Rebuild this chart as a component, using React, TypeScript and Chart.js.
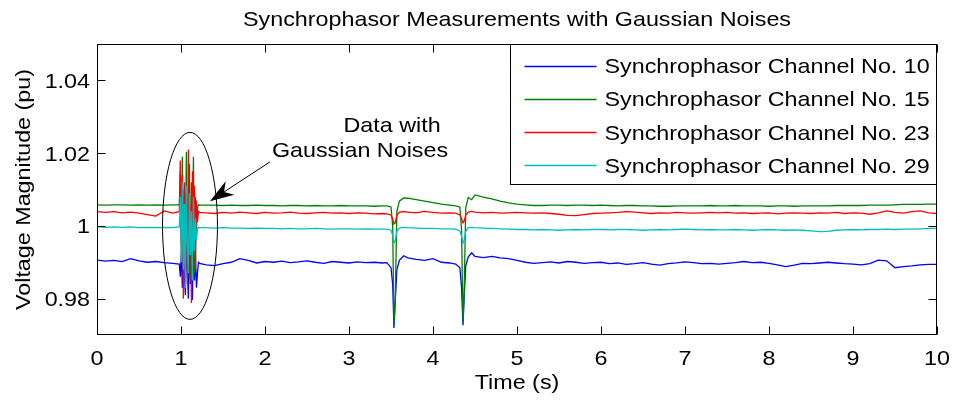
import React, { useEffect, useRef } from 'react';
import { Chart, registerables } from 'chart.js';

Chart.register(...registerables);

// ---------- data ----------
const times = [
  0, 0.1, 0.2, 0.3, 0.4, 0.5, 0.6, 0.7, 0.8, 0.9,
  0.98, 0.992, 1.004, 1.016, 1.028, 1.04, 1.052, 1.064, 1.076, 1.088, 1.1, 1.112, 1.124, 1.136, 1.148, 1.16, 1.172, 1.184, 1.196, 1.208, 1.22,
  1.3, 1.4, 1.5, 1.6, 1.7, 1.8, 1.9, 2.0, 2.1, 2.2, 2.3, 2.4, 2.5, 2.6, 2.7, 2.8, 2.9, 3.0, 3.1, 3.2, 3.3, 3.4,
  3.45, 3.5, 3.52, 3.535, 3.55, 3.57, 3.6, 3.65,
  3.7, 3.8, 3.9, 4.0, 4.1, 4.2,
  4.27, 4.32, 4.34, 4.357, 4.37, 4.39, 4.42, 4.46,
  4.5, 4.6, 4.7, 4.8, 4.9, 5.0, 5.1, 5.2, 5.3, 5.4,
  5.5, 5.6, 5.7, 5.8, 5.9, 6.0, 6.1, 6.2, 6.3, 6.4,
  6.5, 6.6, 6.7, 6.8, 6.9, 7.0, 7.1, 7.2, 7.3, 7.4,
  7.5, 7.6, 7.7, 7.8, 7.9, 8.0, 8.1, 8.2, 8.3, 8.4,
  8.5, 8.6, 8.7, 8.8, 8.9, 9.0, 9.1, 9.2, 9.3, 9.4,
  9.5, 9.6, 9.7, 9.8, 9.9, 10.0,
];

const channel10 = [
  0.9906, 0.9903, 0.9905, 0.9902, 0.9910, 0.9904, 0.9900, 0.9902, 0.9899, 0.9897,
  0.9895, 0.9860, 0.9930, 0.9830, 0.9960, 0.9870, 0.9810, 0.9950, 0.9880, 0.9800, 0.9985, 0.9840, 0.9930, 0.9796, 0.9960, 0.9850, 0.9920, 0.9830, 0.9870, 0.9900, 0.9897,
  0.9893, 0.9891, 0.9896, 0.9900, 0.9910, 0.9905, 0.9898, 0.9902, 0.9900, 0.9903, 0.9899, 0.9901, 0.9904, 0.9900, 0.9897, 0.9902, 0.9900, 0.9898, 0.9901, 0.9899, 0.9900, 0.9898,
  0.9899, 0.9885, 0.9840, 0.9719, 0.9790, 0.9880, 0.9905, 0.9918,
  0.9912, 0.9908, 0.9905, 0.9910, 0.9900, 0.9898,
  0.9895, 0.9885, 0.9830, 0.9727, 0.9800, 0.9890, 0.9915, 0.9926,
  0.9916, 0.9913, 0.9916, 0.9912, 0.9910, 0.9905, 0.9900, 0.9897, 0.9899, 0.9901,
  0.9898, 0.9902, 0.9900, 0.9897, 0.9899, 0.9900, 0.9896, 0.9898, 0.9894, 0.9896,
  0.9899, 0.9895, 0.9892, 0.9896, 0.9898, 0.9901, 0.9899, 0.9896, 0.9897, 0.9895,
  0.9897, 0.9899, 0.9902, 0.9899, 0.9900, 0.9897, 0.9893, 0.9888, 0.9892, 0.9897,
  0.9896, 0.9898, 0.9900, 0.9898, 0.9896, 0.9895, 0.9893, 0.9896, 0.9906, 0.9904,
  0.9885, 0.9888, 0.9890, 0.9893, 0.9894, 0.9894,
];

const channel15 = [
  1.0058, 1.0057, 1.0058, 1.0058, 1.0057, 1.0058, 1.0057, 1.0058, 1.0057, 1.0058,
  1.0058, 1.0150, 0.9950, 1.0190, 0.9880, 1.0100, 0.9960, 1.0204, 0.9900, 1.0060, 1.0170, 0.9850, 1.0120, 0.9940, 1.0190, 0.9870, 1.0080, 0.9990, 1.0050, 1.0058, 1.0057,
  1.0057, 1.0057, 1.0056, 1.0057, 1.0056, 1.0056, 1.0057, 1.0056, 1.0056, 1.0055, 1.0056, 1.0056, 1.0055, 1.0056, 1.0055, 1.0055, 1.0056, 1.0055, 1.0055, 1.0055, 1.0054, 1.0055,
  1.0055, 1.0052, 1.0000, 0.9733, 0.9790, 1.0040, 1.0068, 1.0077,
  1.0076, 1.0072, 1.0068, 1.0064, 1.0060, 1.0057,
  1.0055, 1.0052, 0.9990, 0.9736, 0.9810, 1.0050, 1.0078, 1.0072,
  1.0085, 1.0079, 1.0074, 1.0068, 1.0063, 1.0060, 1.0058, 1.0056, 1.0056, 1.0057,
  1.0057, 1.0056, 1.0057, 1.0057, 1.0056, 1.0057, 1.0056, 1.0055, 1.0056, 1.0056,
  1.0055, 1.0055, 1.0054, 1.0054, 1.0055, 1.0055, 1.0055, 1.0055, 1.0056, 1.0055,
  1.0055, 1.0056, 1.0055, 1.0055, 1.0055, 1.0054, 1.0055, 1.0055, 1.0054, 1.0055,
  1.0055, 1.0055, 1.0055, 1.0056, 1.0056, 1.0056, 1.0056, 1.0057, 1.0057, 1.0057,
  1.0058, 1.0059, 1.0059, 1.0059, 1.0060, 1.0060,
];

const channel23 = [
  1.0039, 1.0037, 1.0039, 1.0036, 1.0038, 1.0035, 1.0031, 1.0027, 1.0041, 1.0035,
  1.0039, 1.0180, 0.9930, 1.0140, 0.9800, 1.0120, 1.0000, 1.0090, 0.9840, 1.0210, 0.9950, 1.0060, 0.9788, 1.0150, 0.9960, 1.0110, 0.9880, 1.0070, 1.0010, 1.0040, 1.0037,
  1.0036, 1.0034, 1.0037, 1.0035, 1.0038, 1.0036, 1.0034, 1.0037, 1.0035, 1.0036, 1.0038, 1.0035, 1.0034, 1.0036, 1.0037, 1.0035, 1.0036, 1.0034, 1.0036, 1.0035, 1.0033, 1.0034,
  1.0033, 1.0030, 1.0020, 1.0005, 1.0008, 1.0030, 1.0038, 1.0039,
  1.0038, 1.0036, 1.0040, 1.0037, 1.0035, 1.0036,
  1.0035, 1.0030, 1.0020, 1.0008, 1.0012, 1.0030, 1.0038, 1.0040,
  1.0038, 1.0036, 1.0037, 1.0035, 1.0036, 1.0037, 1.0036, 1.0035, 1.0036, 1.0034,
  1.0032, 1.0029, 1.0028, 1.0031, 1.0034, 1.0035, 1.0036, 1.0037, 1.0039, 1.0038,
  1.0036, 1.0034, 1.0036, 1.0035, 1.0037, 1.0036, 1.0035, 1.0036, 1.0037, 1.0036,
  1.0037, 1.0035, 1.0036, 1.0034, 1.0035, 1.0036, 1.0033, 1.0035, 1.0036, 1.0035,
  1.0034, 1.0036, 1.0035, 1.0037, 1.0034, 1.0036, 1.0035, 1.0032, 1.0036, 1.0041,
  1.0037, 1.0035, 1.0039, 1.0041, 1.0036, 1.0034,
];

const channel29 = [
  0.9998, 0.9996, 0.9997, 0.9996, 0.9997, 0.9995, 0.9996, 0.9995, 0.9996, 0.9995,
  0.9997, 1.0080, 0.9900, 1.0120, 0.9880, 1.0060, 0.9830, 1.0110, 0.9950, 0.9870, 1.0090, 0.9920, 1.0040, 0.9850, 1.0080, 0.9930, 1.0020, 0.9960, 0.9990, 0.9996, 0.9995,
  0.9995, 0.9994, 0.9995, 0.9994, 0.9994, 0.9993, 0.9994, 0.9993, 0.9993, 0.9992, 0.9993, 0.9992, 0.9992, 0.9993, 0.9992, 0.9991, 0.9992, 0.9992, 0.9991, 0.9992, 0.9991, 0.9991,
  0.9991, 0.9988, 0.9975, 0.9953, 0.9958, 0.9985, 0.9994, 0.9996,
  0.9995, 0.9994, 0.9993, 0.9993, 0.9992, 0.9992,
  0.9991, 0.9986, 0.9972, 0.9953, 0.9960, 0.9985, 0.9995, 0.9996,
  0.9995, 0.9994, 0.9993, 0.9992, 0.9991, 0.9990, 0.9990, 0.9989, 0.9990, 0.9989,
  0.9988, 0.9989, 0.9990, 0.9989, 0.9990, 0.9990, 0.9989, 0.9990, 0.9990, 0.9989,
  0.9988, 0.9989, 0.9990, 0.9989, 0.9990, 0.9991, 0.9990, 0.9989, 0.9990, 0.9989,
  0.9989, 0.9990, 0.9989, 0.9988, 0.9989, 0.9990, 0.9989, 0.9988, 0.9989, 0.9988,
  0.9986, 0.9984, 0.9985, 0.9988, 0.9989, 0.9990, 0.9989, 0.9990, 0.9990, 0.9991,
  0.9990, 0.9991, 0.9991, 0.9992, 0.9993, 0.9993,
];

const seriesNames = [
  'Synchrophasor Channel No. 10',
  'Synchrophasor Channel No. 15',
  'Synchrophasor Channel No. 23',
  'Synchrophasor Channel No. 29',
];
const seriesColors = ['#0000ff', '#008000', '#ff0000', '#00bfbf'];

const xTicks = [0, 1, 2, 3, 4, 5, 6, 7, 8, 9, 10];
const xTickLabels = ['0', '1', '2', '3', '4', '5', '6', '7', '8', '9', '10'];
const yTicks = [0.98, 1, 1.02, 1.04];
const yTickLabels = ['0.98', '1', '1.02', '1.04'];

const titleText = 'Synchrophasor Measurements with Gaussian Noises';
const xLabel = 'Time (s)';
const yLabel = 'Voltage Magnitude (pu)';
const noteLines = ['Data with', 'Gaussian Noises'];

// annotation anchors in data units
const ellipseCenter = { t: 1.107, v: 1.0 };
const ellipseRadius = { t: 0.327, v: 0.0257 };
const arrowTail = { t: 2.06, v: 1.0176 };
const arrowTip = { t: 1.345, v: 1.0068 };
const notePos = [
  { t: 3.512, v: 1.0258 },
  { t: 3.131, v: 1.0189 },
];

// ---------- drawing helpers ----------
const FONT = '"Liberation Sans", Arial, Helvetica, sans-serif';
const FS = 21;
const STRETCH = 1.11;

function drawText(
  ctx: CanvasRenderingContext2D,
  s: string,
  x: number,
  y: number,
  align: CanvasTextAlign,
  rot = 0,
  size = FS,
  stretch = STRETCH,
) {
  ctx.save();
  ctx.translate(x, y);
  if (rot) ctx.rotate(rot);
  ctx.scale(stretch, 1);
  ctx.font = `${size}px ${FONT}`;
  ctx.textAlign = align;
  ctx.textBaseline = 'alphabetic';
  ctx.fillStyle = '#000';
  ctx.fillText(s, 0, 0);
  ctx.restore();
}

const decorPlugin = {
  id: 'decor',
  afterDatasetsDraw(chart: any) {
    const { ctx, chartArea: a, scales } = chart;
    const xs = scales.x;
    const ys = scales.y;
    const L = Math.round(a.left) + 0.5;
    const R = Math.round(a.right) - 0.5;
    const T = Math.round(a.top) + 0.5;
    const B = Math.round(a.bottom) - 0.5;
    ctx.save();
    ctx.strokeStyle = '#000';
    ctx.lineWidth = 1;

    // axes box
    ctx.strokeRect(L, T, R - L, B - T);

    // tick marks (inside, mirrored)
    const tl = 8;
    ctx.beginPath();
    xTicks.forEach((v) => {
      const px = Math.round(xs.getPixelForValue(v)) + 0.5;
      ctx.moveTo(px, B);
      ctx.lineTo(px, B - tl);
      ctx.moveTo(px, T);
      ctx.lineTo(px, T + tl);
    });
    yTicks.forEach((v) => {
      const py = Math.round(ys.getPixelForValue(v)) + 0.5;
      ctx.moveTo(L, py);
      ctx.lineTo(L + tl, py);
      ctx.moveTo(R, py);
      ctx.lineTo(R - tl, py);
    });
    ctx.stroke();

    // tick labels
    xTicks.forEach((v, i) => {
      drawText(ctx, xTickLabels[i], xs.getPixelForValue(v), a.bottom + 30, 'center');
    });
    yTicks.forEach((v, i) => {
      drawText(ctx, yTickLabels[i], a.left - 7, ys.getPixelForValue(v) + 7.5, 'right');
    });

    // axis labels and title
    const cx = (a.left + a.right) / 2;
    const cy = (a.top + a.bottom) / 2;
    drawText(ctx, xLabel, cx, a.bottom + 54, 'center');
    drawText(ctx, yLabel, 30, cy, 'center', -Math.PI / 2);
    drawText(ctx, titleText, cx, 26, 'center');

    // ellipse
    const ecx = xs.getPixelForValue(ellipseCenter.t);
    const ecy = ys.getPixelForValue(ellipseCenter.v);
    const erx = Math.abs(xs.getPixelForValue(ellipseCenter.t + ellipseRadius.t) - ecx);
    const ery = Math.abs(ys.getPixelForValue(ellipseCenter.v + ellipseRadius.v) - ecy);
    ctx.beginPath();
    ctx.ellipse(ecx, ecy, erx, ery, 0, 0, Math.PI * 2);
    ctx.stroke();

    // arrow
    const tx = xs.getPixelForValue(arrowTail.t);
    const ty = ys.getPixelForValue(arrowTail.v);
    const hx = xs.getPixelForValue(arrowTip.t);
    const hy = ys.getPixelForValue(arrowTip.v);
    const ang = Math.atan2(hy - ty, hx - tx);
    const hl = 24;
    const hw = 8;
    const ux = Math.cos(ang);
    const uy = Math.sin(ang);
    const bx = hx - ux * hl;
    const by = hy - uy * hl;
    const nx = hx - ux * hl * 0.7;
    const ny = hy - uy * hl * 0.7;
    ctx.beginPath();
    ctx.moveTo(tx, ty);
    ctx.lineTo(nx, ny);
    ctx.stroke();
    ctx.fillStyle = '#000';
    ctx.beginPath();
    ctx.moveTo(hx, hy);
    ctx.lineTo(bx - uy * hw, by + ux * hw);
    ctx.lineTo(nx, ny);
    ctx.lineTo(bx + uy * hw, by - ux * hw);
    ctx.closePath();
    ctx.fill();

    // note text
    noteLines.forEach((s, i) => {
      drawText(ctx, s, xs.getPixelForValue(notePos[i].t), ys.getPixelForValue(notePos[i].v), 'center');
    });

    // legend box
    const lw = 426;
    const lh = 140;
    const lx = R - lw;
    const ly = T;
    ctx.fillStyle = '#fff';
    ctx.fillRect(lx, ly, lw, lh);
    ctx.strokeStyle = '#000';
    ctx.strokeRect(lx, ly, lw, lh);
    const rowH = 33.3;
    ctx.lineWidth = 1.3;
    seriesNames.forEach((name, i) => {
      const ry = ly + 21 + i * rowH;
      ctx.strokeStyle = seriesColors[i];
      ctx.beginPath();
      ctx.moveTo(lx + 14, Math.round(ry) + 0.5);
      ctx.lineTo(lx + 86, Math.round(ry) + 0.5);
      ctx.stroke();
      drawText(ctx, name, lx + 94, ry + 7.5, 'left');
    });

    ctx.restore();
  },
};

export default function App() {
  const canvasRef = useRef<HTMLCanvasElement | null>(null);

  useEffect(() => {
    const canvas = canvasRef.current;
    if (!canvas) return;
    const allSeries = [channel10, channel15, channel23, channel29];
    const chart = new Chart(canvas, {
      type: 'line',
      data: {
        datasets: allSeries.map((vals, i) => ({
          label: seriesNames[i],
          data: times.slice(0, Math.min(times.length, vals.length)).map((t, k) => ({ x: t, y: vals[k] })),
          borderColor: seriesColors[i],
          backgroundColor: seriesColors[i],
          borderWidth: 1.3,
          pointRadius: 0,
          tension: 0,
          fill: false,
          order: 3 - i,
        })),
      },
      options: {
        animation: false,
        responsive: false,
        devicePixelRatio: 1,
        layout: { padding: { left: 97, right: 16, top: 44, bottom: 65 } },
        plugins: {
          legend: { display: false },
          tooltip: { enabled: false },
          title: { display: false },
        },
        scales: {
          x: { type: 'linear', min: 0, max: 10, display: false },
          y: { type: 'linear', min: 0.97, max: 1.05, display: false },
        },
      },
      plugins: [decorPlugin],
    });
    return () => chart.destroy();
  }, []);

  return (
    <div style={{ position: 'absolute', left: 0, top: 0, width: 953, height: 400, background: '#fff' }}>
      <canvas ref={canvasRef} width={953} height={400} style={{ display: 'block', width: 953, height: 400 }} />
    </div>
  );
}
